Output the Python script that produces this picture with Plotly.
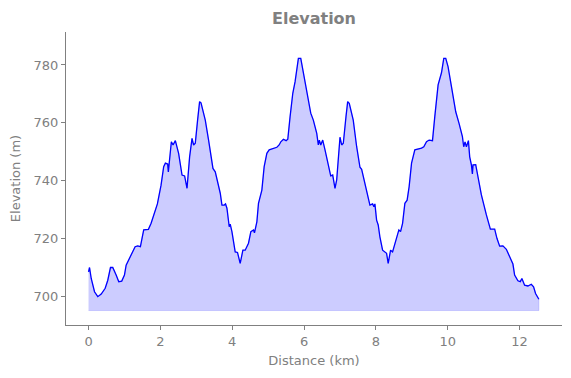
import plotly.graph_objects as go

# Distance along route (km)
distance_km = [
    0.000, 0.028, 0.075, 0.167, 0.258, 0.353, 0.464, 0.536, 0.611, 0.675,
    0.769, 0.842, 0.925, 1.000, 1.047, 1.139, 1.231, 1.297, 1.369, 1.444,
    1.536, 1.667, 1.742, 1.833, 1.917, 2.019, 2.092, 2.139, 2.203, 2.222,
    2.258, 2.306, 2.353, 2.417, 2.508, 2.603, 2.675, 2.742, 2.814, 2.881,
    2.925, 2.972, 3.036, 3.092, 3.131, 3.250, 3.342, 3.464, 3.528, 3.667,
    3.714, 3.778, 3.814, 3.853, 3.917, 3.944, 3.992, 4.083, 4.147, 4.222,
    4.297, 4.361, 4.453, 4.519, 4.592, 4.619, 4.686, 4.731, 4.825, 4.889,
    4.964, 5.028, 5.242, 5.306, 5.353, 5.425, 5.500, 5.547, 5.611, 5.686,
    5.750, 5.842, 5.908, 5.981, 6.075, 6.186, 6.258, 6.353, 6.397, 6.425,
    6.464, 6.519, 6.583, 6.675, 6.742, 6.797, 6.861, 6.908, 7.000, 7.047,
    7.092, 7.167, 7.214, 7.258, 7.369, 7.464, 7.556, 7.603, 7.694, 7.786,
    7.833, 7.908, 7.944, 7.972, 8.019, 8.064, 8.111, 8.186, 8.250, 8.297,
    8.342, 8.408, 8.464, 8.528, 8.592, 8.639, 8.686, 8.742, 8.806, 8.869,
    8.925, 8.992, 9.083, 9.269, 9.333, 9.408, 9.481, 9.575, 9.639, 9.731,
    9.825, 9.889, 9.944, 10.008, 10.103, 10.222, 10.314, 10.408, 10.444, 10.481,
    10.519, 10.575, 10.611, 10.658, 10.686, 10.703, 10.778, 10.842, 10.936, 11.075,
    11.186, 11.306, 11.369, 11.444, 11.536, 11.631, 11.722, 11.814, 11.861, 11.953,
    12.019, 12.064, 12.139, 12.231, 12.325, 12.389, 12.444, 12.536,
]

# Elevation (m)
elevation_m = [
    708.4, 709.9, 706.1, 701.5, 699.8, 700.7, 702.7, 705.5, 709.9, 709.9,
    707.3, 705.0, 705.2, 707.3, 710.7, 713.1, 715.3, 717.1, 717.4, 717.1,
    722.9, 723.1, 725.2, 728.6, 731.9, 738.4, 744.8, 746.0, 745.7, 743.0,
    747.1, 753.4, 752.3, 753.8, 749.4, 741.9, 741.6, 737.3, 748.2, 754.6,
    752.3, 752.9, 760.9, 767.3, 766.9, 760.9, 754.0, 744.2, 743.0, 735.6,
    731.5, 731.5, 731.9, 730.4, 724.0, 724.9, 722.3, 715.3, 715.1, 711.3,
    715.9, 715.9, 718.3, 722.3, 722.9, 721.9, 725.7, 732.1, 736.7, 744.8,
    749.4, 750.6, 751.5, 752.3, 753.4, 754.3, 753.8, 754.3, 762.1, 770.2,
    774.2, 782.3, 782.3, 777.1, 770.8, 763.3, 760.9, 756.3, 752.3, 754.0,
    752.3, 754.0, 750.6, 744.8, 741.6, 741.9, 737.3, 740.2, 755.0, 752.3,
    752.9, 762.1, 767.3, 766.7, 760.9, 751.7, 744.6, 743.9, 739.0, 734.4,
    731.5, 731.9, 730.9, 731.9, 726.3, 724.6, 720.5, 715.9, 715.3, 714.8,
    711.3, 715.9, 715.3, 718.3, 720.5, 722.9, 722.3, 725.2, 732.1, 733.2,
    737.9, 746.0, 750.6, 751.2, 751.7, 753.4, 754.0, 753.8, 762.1, 773.1,
    777.3, 782.3, 782.3, 779.4, 772.5, 763.8, 759.8, 755.2, 751.7, 753.4,
    751.7, 753.8, 748.2, 745.4, 742.3, 745.4, 745.5, 741.2, 735.0, 728.1,
    723.2, 723.2, 720.0, 717.3, 717.4, 716.2, 713.6, 711.1, 707.3, 705.3,
    705.0, 706.1, 703.8, 703.5, 704.1, 703.2, 700.9, 698.9,
]

BASELINE_M = 695
X_TICKS = [0, 2, 4, 6, 8, 10, 12]
Y_TICKS = [700, 720, 740, 760, 780]

GRAY = "#808080"
FONT = "DejaVu Sans"

# Fill polygon (area between profile and baseline)
poly_x = distance_km + distance_km[::-1]
poly_y = elevation_m + [BASELINE_M] * len(distance_km)

fig = go.Figure()
fig.add_trace(go.Scatter(
    x=poly_x, y=poly_y, mode="lines", fill="toself",
    fillcolor="rgba(0,0,255,0.2)",
    line=dict(color="rgba(0,0,255,0.15)", width=1),
    hoverinfo="skip", showlegend=False,
))
fig.add_trace(go.Scatter(
    x=distance_km, y=elevation_m, mode="lines",
    line=dict(color="#0000ff", width=1.3),
    showlegend=False,
))

axis_common = dict(
    showgrid=False, zeroline=False, showline=True, linecolor=GRAY, linewidth=1,
    ticks="outside", ticklen=4, tickcolor=GRAY, tickwidth=1,
    tickfont=dict(family=FONT, size=13, color=GRAY),
    mirror=False, automargin=False,
)

fig.update_layout(
    width=571, height=378,
    margin=dict(l=66, r=9, t=32, b=53),
    paper_bgcolor="white", plot_bgcolor="white",
    title=dict(
        text="<b>Elevation</b>", x=(66 + 562) / 2 / 571, xanchor="center",
        y=1 - 18 / 378, yanchor="middle",
        font=dict(family=FONT, size=16, color=GRAY),
    ),
    xaxis=dict(
        **axis_common, range=[-0.627, 13.18], tickvals=X_TICKS,
        title=dict(text="Distance (km)", standoff=8,
                   font=dict(family=FONT, size=13, color=GRAY)),
    ),
    yaxis=dict(
        **axis_common, range=[690, 791.4], tickvals=Y_TICKS,
        title=dict(text="Elevation (m)", standoff=10,
                   font=dict(family=FONT, size=13, color=GRAY)),
    ),
)

fig.write_html(
    "out.html",
    config={"displayModeBar": False},
    post_script="document.body.style.margin='0';document.body.style.overflow='hidden';",
)
